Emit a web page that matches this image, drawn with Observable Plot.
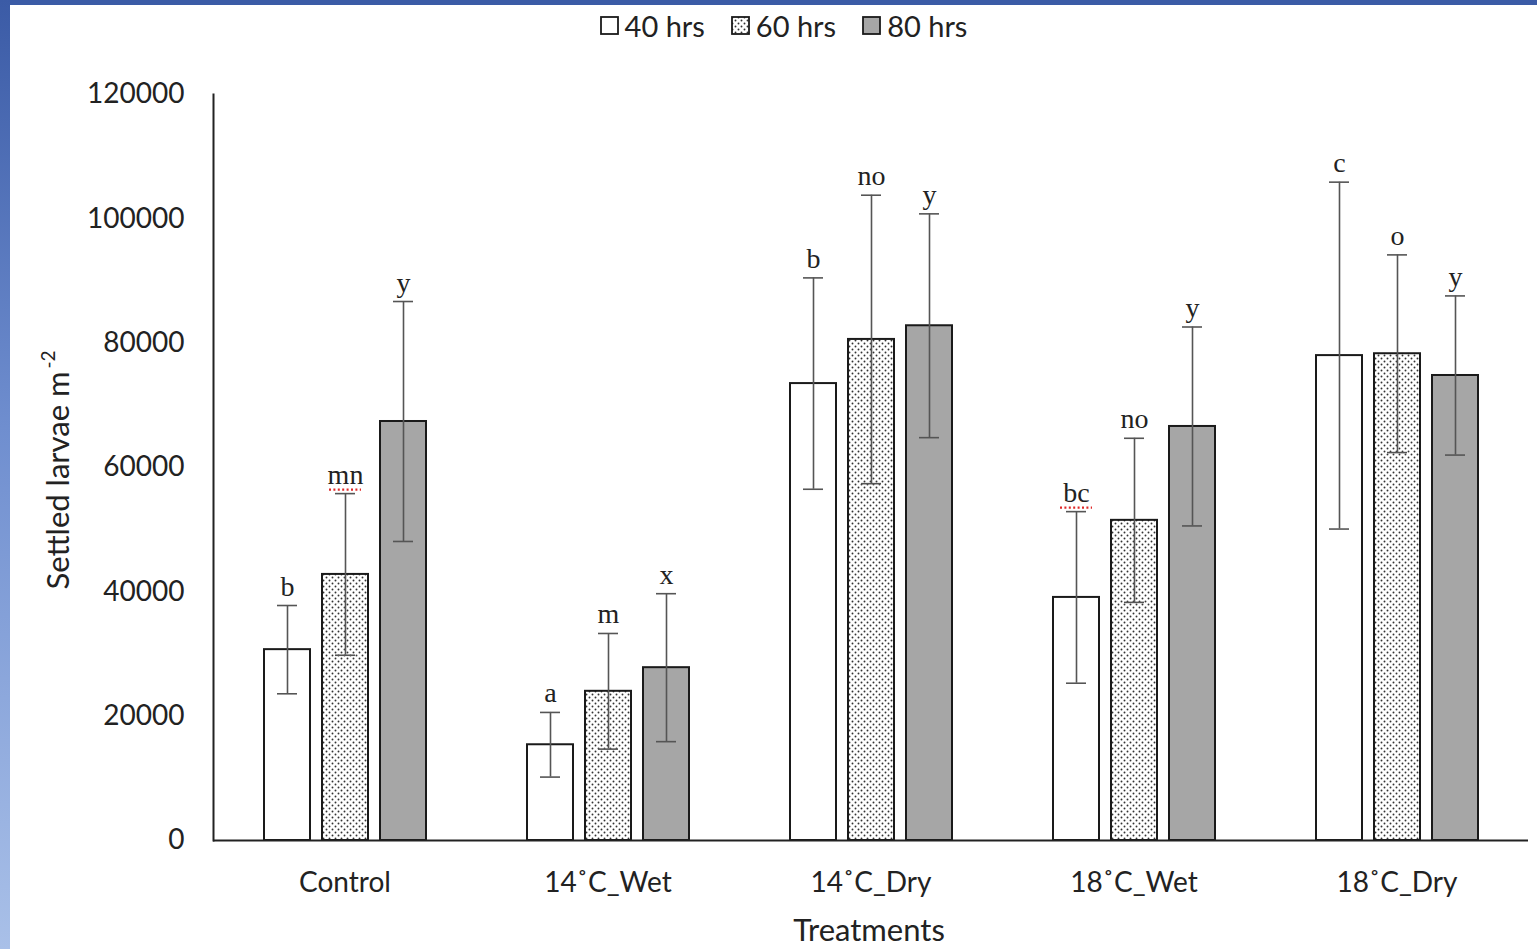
<!DOCTYPE html>
<html>
<head>
<meta charset="utf-8">
<script src="https://cdn.jsdelivr.net/npm/d3@7"></script>
<script src="https://cdn.jsdelivr.net/npm/@observablehq/plot@0.6"></script>
<style>
  html, body { margin: 0; padding: 0; background: #fff; }
  body { width: 1537px; height: 949px; position: relative; overflow: hidden; font-family: Lato, sans-serif; color: #222; }
  #topband { position: absolute; left: 0; top: 0; width: 1537px; height: 5px; background: #3b5ba6; z-index: 3; }
  #leftband { position: absolute; left: 0; top: 0; width: 10px; height: 949px; background: linear-gradient(#3b5ba6, #6f8ecf 45%, #a9c0e8); z-index: 3; }
  #chart { position: absolute; left: 0; top: 0; }
  #legend { position: absolute; top: 8px; left: 0; width: 1537px; padding-left: 30px; box-sizing: border-box; display: flex; justify-content: center; gap: 26px; font-size: 29px; z-index: 2; }
  #legend .item { display: flex; align-items: center; gap: 5px; }
  #ylabel { position: absolute; left: 57px; top: 470px; transform: translate(-50%, -50%) rotate(-90deg); white-space: nowrap; font-size: 31px; }
  #ylabel sup { font-size: 19px; position: relative; top: -3px; margin-left: 3px; }
  #xlabel { position: absolute; left: 869px; top: 929px; transform: translate(-50%, -50%); font-size: 31px; line-height: 1; white-space: nowrap; }
</style>
</head>
<body>
<div id="topband"></div>
<div id="leftband"></div>
<div id="chart"></div>
<div id="legend"></div>
<div id="ylabel">Settled larvae m<sup>-2</sup></div>
<div id="xlabel">Treatments</div>
<script>
const treatments = ["Control", "14˚C_Wet", "14˚C_Dry", "18˚C_Wet", "18˚C_Dry"];
const series = ["40 hrs", "60 hrs", "80 hrs"];
const means40 = [30700, 15400, 73500, 39100, 78000];
const means60 = [42800, 24000, 80600, 51500, 78300];
const means80 = [67400, 27800, 82800, 66600, 74800];
const err40 = [7100, 5200, 17000, 13800, 27900];
const err60 = [13000, 9300, 23200, 13200, 15900];
const err80 = [19300, 11900, 18000, 16000, 12800];
const letters40 = ["b", "a", "b", "bc", "c"];
const letters60 = ["mn", "m", "no", "no", "o"];
const letters80 = ["y", "x", "y", "y", "y"];
const spellFlagged = ["mn", "bc"];
const yTicks = [0, 20000, 40000, 60000, 80000, 100000, 120000];
const fills = ["#ffffff", "url(#dots)", "#a6a6a6"];

const means = [means40, means60, means80];
const errs = [err40, err60, err80];
const letters = [letters40, letters60, letters80];
const data = [];
treatments.forEach((t, i) => {
  series.forEach((s, j) => {
    data.push({treatment: t, series: s, mean: means[j][i], err: errs[j][i], letter: letters[j][i]});
  });
});

const NS = "http://www.w3.org/2000/svg";
function patternDefs() {
  const defs = document.createElementNS(NS, "defs");
  const p = document.createElementNS(NS, "pattern");
  p.setAttribute("id", "dots");
  p.setAttribute("patternUnits", "userSpaceOnUse");
  p.setAttribute("width", "6");
  p.setAttribute("height", "6");
  const bg = document.createElementNS(NS, "rect");
  bg.setAttribute("width", "6"); bg.setAttribute("height", "6"); bg.setAttribute("fill", "#fff");
  p.appendChild(bg);
  [[1.5, 1.5], [4.5, 4.5]].forEach(([cx, cy]) => {
    const c = document.createElementNS(NS, "circle");
    c.setAttribute("cx", cx); c.setAttribute("cy", cy); c.setAttribute("r", "0.95"); c.setAttribute("fill", "#333");
    p.appendChild(c);
  });
  defs.appendChild(p);
  return defs;
}

const barMarks = series.map((s, j) =>
  Plot.barY(data.filter(d => d.series === s), {
    fx: "treatment", x: "series", y: "mean",
    fill: fills[j], stroke: "#1a1a1a", strokeWidth: 2
  })
);

const flagged = data.filter(d => spellFlagged.includes(d.letter));

const plot = Plot.plot({
  width: 1537,
  height: 949,
  marginLeft: 212,
  marginRight: 9,
  marginTop: 94,
  marginBottom: 109,
  style: {fontFamily: "Lato, sans-serif", fontSize: "28px", color: "#222", background: "transparent", overflow: "visible"},
  fx: {domain: treatments, padding: 0, label: null},
  x: {domain: series, paddingInner: 0.207, paddingOuter: 0.85, axis: null},
  y: {domain: [0, 120000], label: null},
  marks: [
    patternDefs,
    ...barMarks,
    Plot.ruleX(data, {fx: "treatment", x: "series", y1: d => d.mean - d.err, y2: d => d.mean + d.err, stroke: "#555", strokeWidth: 1.6}),
    Plot.tickY(data, {fx: "treatment", x: "series", y: d => d.mean + d.err, stroke: "#555", strokeWidth: 1.6, insetLeft: 13, insetRight: 13}),
    Plot.tickY(data, {fx: "treatment", x: "series", y: d => d.mean - d.err, stroke: "#555", strokeWidth: 1.6, insetLeft: 13, insetRight: 13}),
    Plot.tickY(flagged, {fx: "treatment", x: "series", y: d => d.mean + d.err, dy: -4, stroke: "#e02828", strokeWidth: 2.4, strokeDasharray: "2 2.4", insetLeft: 7, insetRight: 7}),
    Plot.text(data, {fx: "treatment", x: "series", y: d => d.mean + d.err, text: "letter", lineAnchor: "bottom", dy: -10, fontFamily: "Liberation Serif", fontSize: 28, fill: "#222"}),
    Plot.ruleY([0], {stroke: "#222", strokeWidth: 2}),
    Plot.frame({anchor: "left", facetAnchor: "left", stroke: "#222", strokeWidth: 2}),
    Plot.axisY({ticks: yTicks, tickFormat: d => String(d), tickSize: 0, tickPadding: 29, label: null}),
    Plot.axisFx({anchor: "bottom", tickSize: 0, tickPadding: 32, label: null})
  ]
});
document.getElementById("chart").appendChild(plot);

// legend
const legend = document.getElementById("legend");
series.forEach((s, j) => {
  const item = document.createElement("div");
  item.className = "item";
  const sw = document.createElementNS(NS, "svg");
  sw.setAttribute("width", "20"); sw.setAttribute("height", "20");
  sw.appendChild(patternDefs());
  const r = document.createElementNS(NS, "rect");
  r.setAttribute("x", "1"); r.setAttribute("y", "1"); r.setAttribute("width", "17"); r.setAttribute("height", "17");
  r.setAttribute("fill", fills[j]); r.setAttribute("stroke", "#1a1a1a"); r.setAttribute("stroke-width", "1.8");
  sw.appendChild(r);
  item.appendChild(sw);
  const lab = document.createElement("span");
  lab.textContent = s;
  item.appendChild(lab);
  legend.appendChild(item);
});
</script>
</body>
</html>
